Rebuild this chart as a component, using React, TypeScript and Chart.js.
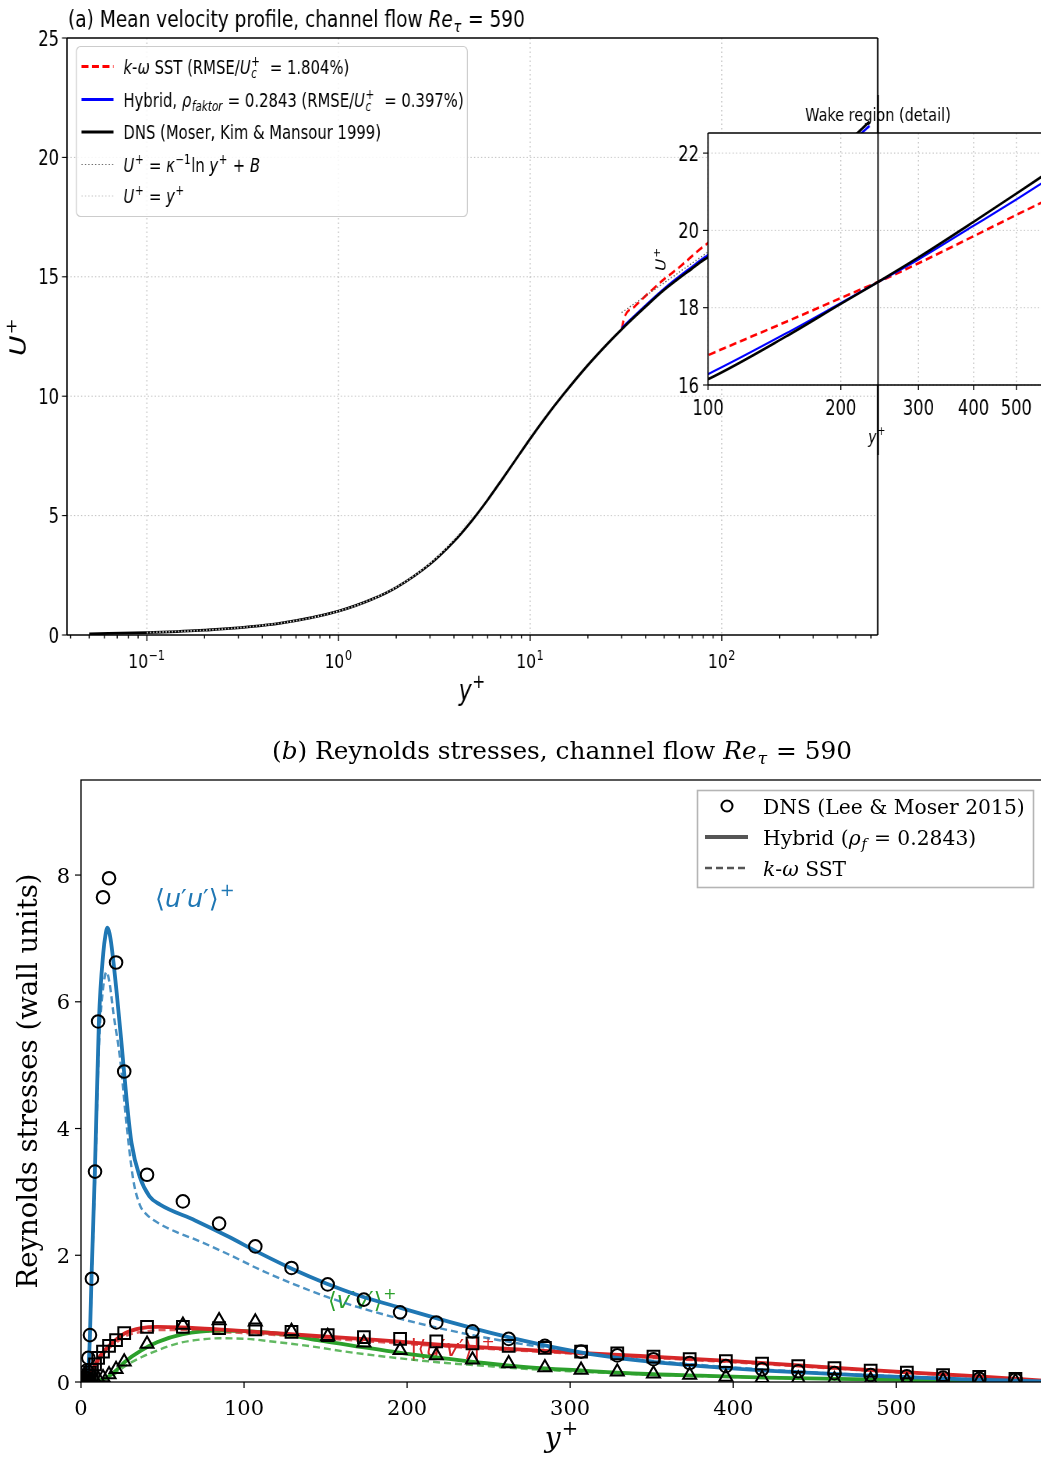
import React, { useEffect, useRef } from 'react';
import { Chart, registerables } from 'chart.js';
Chart.register(...registerables);

// ---------------- layout constants ----------------
const F = 0.78; // horizontal squeeze of panel (a)
const CW_A = Math.round(1041 / F);
const CH_A = 712;
const CW_I = Math.round(500 / F);
const CH_I = 360;
const F_I = 500 / CW_I;
const A_FAM = "'DejaVu Sans', 'Noto Sans', sans-serif";
const B_FAM = "'DejaVu Serif', 'Liberation Serif', serif";
const BLUE = '#1f77b4';
const RED = '#d62728';
const GREEN = '#2ca02c';

// ---------------- panel (a) data ----------------
const dnsYPlus = [0.05, 0.1, 0.2, 0.5, 1, 1.5, 2, 3, 4, 5, 6, 7, 8, 10, 12, 15, 20, 25, 30, 40, 50, 70, 81, 100, 150, 200, 250, 300, 400, 500, 590];
const dnsU = [0.05, 0.1, 0.2, 0.5, 1.0, 1.5, 1.99, 2.97, 3.92, 4.82, 5.66, 6.42, 7.09, 8.22, 9.1, 10.1, 11.3, 12.15, 12.8, 13.75, 14.45, 15.35, 15.72, 16.15, 17.25, 18.1, 18.75, 19.3, 20.22, 20.95, 21.5];
const hybYPlus = [30, 40, 50, 70, 81, 100, 150, 200, 250, 300, 400, 500, 590];
const hybU = [12.85, 13.8, 14.5, 15.42, 15.8, 16.28, 17.33, 18.12, 18.74, 19.25, 20.12, 20.8, 21.32];
const sstYPlus = [30, 31, 35, 40, 50, 60, 81, 100, 150, 200, 250, 300, 400, 500, 590];
const sstU = [12.8, 13.3, 13.75, 14.2, 14.9, 15.4, 16.3, 16.77, 17.63, 18.25, 18.73, 19.15, 19.85, 20.4, 20.8];
const logLawYPlus = [30, 50, 100, 200, 300, 400, 500, 590];
const logLawU = [13.5, 14.75, 16.44, 18.13, 19.12, 19.82, 20.36, 20.77];
const linLawYPlus = [0.1, 0.2, 0.3, 0.5, 0.7, 1, 1.5, 2, 2.5, 3, 3.5, 4, 4.5, 5];
const linLawU = [0.1, 0.2, 0.3, 0.5, 0.7, 1, 1.5, 2, 2.5, 3, 3.5, 4, 4.5, 5];

const aMajorTicks = [0.1, 1, 10, 100];
const aMajorExp = ['−1', '0', '1', '2'];
const aMinorTicks = [0.04, 0.05, 0.06, 0.07, 0.08, 0.09, 0.2, 0.3, 0.4, 0.5, 0.6, 0.7, 0.8, 0.9, 2, 3, 4, 5, 6, 7, 8, 9, 20, 30, 40, 50, 60, 70, 80, 90, 200, 300, 400, 500, 600];
const aYTicks = [0, 5, 10, 15, 20, 25];
const aGridY = [5, 10, 15, 20];
const insetXTicks = [100, 200, 300, 400, 500];
const insetYTicks = [16, 18, 20, 22];

// ---------------- panel (b) data ----------------
const dnsStressYPlus = [1.2, 2.4, 3.5, 4.5, 5.5, 6.7, 8.6, 10.5, 13.5, 17.2, 21.5, 26.5, 40.5, 62.5, 84.7, 106.9, 129.1, 151.3, 173.5, 195.7, 217.9, 240.1, 262.3, 284.5, 306.7, 328.9, 351.1, 373.3, 395.5, 417.7, 439.9, 462.1, 484.3, 506.5, 528.7, 550.9, 573.1];
const dnsUU = [0.02, 0.08, 0.18, 0.38, 0.74, 1.63, 3.32, 5.69, 7.65, 7.95, 6.62, 4.9, 3.27, 2.85, 2.5, 2.14, 1.8, 1.54, 1.3, 1.1, 0.94, 0.8, 0.68, 0.57, 0.48, 0.42, 0.36, 0.3, 0.25, 0.2, 0.17, 0.14, 0.11, 0.09, 0.07, 0.05, 0.04];
const dnsUV = [0.005, 0.03, 0.06, 0.11, 0.15, 0.19, 0.28, 0.38, 0.48, 0.57, 0.66, 0.77, 0.87, 0.87, 0.85, 0.83, 0.79, 0.74, 0.71, 0.68, 0.64, 0.61, 0.57, 0.54, 0.48, 0.45, 0.4, 0.36, 0.33, 0.29, 0.25, 0.22, 0.18, 0.15, 0.11, 0.08, 0.05];
const dnsVV = [0, 0.002, 0.005, 0.008, 0.012, 0.02, 0.03, 0.05, 0.07, 0.12, 0.2, 0.32, 0.6, 0.9, 0.97, 0.95, 0.8, 0.72, 0.62, 0.5, 0.42, 0.35, 0.29, 0.23, 0.19, 0.16, 0.13, 0.11, 0.08, 0.06, 0.05, 0.04, 0.03, 0.02, 0.02, 0.01, 0.01];

const hybUUYPlus = [0, 2, 3.5, 4.5, 5.5, 6.5, 8.6, 11, 13.7, 15, 16.2, 17.5, 18.8, 21.9, 25, 28, 31, 36, 42, 48.5, 70, 90, 110, 130, 150, 170, 196, 226, 257, 288, 318, 349, 380, 420, 482, 543, 590];
const hybUU = [0, 0.01, 0.05, 0.2, 0.75, 1.7, 3.4, 5.7, 6.78, 7.05, 7.17, 7.08, 6.87, 6.14, 5.3, 4.45, 3.77, 3.24, 2.93, 2.8, 2.55, 2.3, 2.03, 1.78, 1.56, 1.37, 1.17, 0.95, 0.74, 0.56, 0.42, 0.32, 0.25, 0.18, 0.1, 0.04, 0.01];
const sstUUYPlus = [0, 3.5, 4.5, 5.5, 6.5, 8.6, 11, 13.5, 15.7, 17.5, 20, 24, 28, 32, 36, 40, 48, 60, 70, 90, 110, 130, 150, 170, 200, 225, 250, 280, 310, 340, 370, 400, 450, 500, 550, 590];
const sstUU = [0, 0.04, 0.18, 0.7, 1.6, 3.2, 5.3, 6.2, 6.47, 6.3, 5.8, 5.1, 4.05, 3.2, 2.8, 2.65, 2.5, 2.35, 2.25, 2.02, 1.77, 1.55, 1.35, 1.18, 0.97, 0.82, 0.69, 0.56, 0.45, 0.36, 0.29, 0.23, 0.15, 0.09, 0.04, 0.01];
const hybUVYPlus = [0, 2, 4, 6, 8.6, 12, 16.8, 22, 27, 37, 47, 62, 84, 102, 142, 183, 224, 265, 306, 343, 400, 482, 543, 590];
const hybUV = [0, 0.01, 0.06, 0.15, 0.27, 0.42, 0.56, 0.68, 0.77, 0.85, 0.87, 0.86, 0.83, 0.8, 0.73, 0.66, 0.58, 0.52, 0.46, 0.41, 0.33, 0.19, 0.1, 0.02];
const sstUVYPlus = [0, 4, 8.6, 12, 16.8, 22, 27, 40, 50, 62, 84, 102, 142, 183, 224, 265, 306, 343, 400, 482, 543, 590];
const sstUV = [0, 0.05, 0.24, 0.38, 0.52, 0.63, 0.72, 0.8, 0.82, 0.82, 0.79, 0.77, 0.7, 0.63, 0.56, 0.5, 0.44, 0.39, 0.31, 0.18, 0.09, 0.01];
const hybVVYPlus = [0, 5, 10, 13, 16.5, 21, 27, 37, 47, 62, 84, 104, 125, 145, 170, 196, 224, 247, 275, 308, 343, 380, 420, 482, 543, 590];
const hybVV = [0, 0.005, 0.02, 0.04, 0.08, 0.17, 0.32, 0.5, 0.63, 0.75, 0.81, 0.8, 0.75, 0.66, 0.56, 0.46, 0.37, 0.3, 0.23, 0.18, 0.13, 0.1, 0.07, 0.04, 0.02, 0.01];
const sstVVYPlus = [0, 10, 16.5, 21, 27, 37, 47, 61, 70, 85, 102, 120, 142, 162, 183, 204, 224, 245, 265, 300, 343, 400, 482, 543, 590];
const sstVV = [0, 0.015, 0.06, 0.13, 0.25, 0.39, 0.5, 0.62, 0.66, 0.69, 0.68, 0.63, 0.56, 0.48, 0.41, 0.35, 0.3, 0.26, 0.22, 0.17, 0.12, 0.08, 0.04, 0.02, 0.005];

const bXTicks = [0, 100, 200, 300, 400, 500];
const bYTicks = [0, 2, 4, 6, 8];

// ---------------- helpers ----------------
type Seg = { t: string; i?: boolean; sub?: string; subI?: boolean; sup?: string; supI?: boolean };
const pts = (xs: number[], ys: number[]) => xs.map((x, k) => ({ x, y: ys[k] }));
function fnt(it: any, size: number, fam: string) {
  return `${it ? 'italic ' : ''}${size}px ${fam}`;
}
function richWidth(ctx: any, segs: Seg[], size: number, fam: string) {
  let w = 0;
  for (const s of segs) {
    ctx.font = fnt(s.i, size, fam);
    w += ctx.measureText(s.t).width;
    if (s.sub || s.sup) {
      let e = 0;
      if (s.sub) { ctx.font = fnt(s.subI, size * 0.7, fam); e = Math.max(e, ctx.measureText(s.sub).width); }
      if (s.sup) { ctx.font = fnt(s.supI, size * 0.7, fam); e = Math.max(e, ctx.measureText(s.sup).width); }
      w += e + size * 0.08;
    }
  }
  return w;
}
function drawRich(ctx: any, segs: Seg[], x: number, y: number, size: number, fam: string, color: string, align = 'left') {
  ctx.save();
  ctx.fillStyle = color;
  ctx.textAlign = 'left';
  ctx.textBaseline = 'alphabetic';
  const total = richWidth(ctx, segs, size, fam);
  let cx = align === 'left' ? x : align === 'center' ? x - total / 2 : x - total;
  for (const s of segs) {
    ctx.font = fnt(s.i, size, fam);
    ctx.fillText(s.t, cx, y);
    cx += ctx.measureText(s.t).width;
    if (s.sub || s.sup) {
      cx += size * 0.04;
      let e = 0;
      if (s.sub) {
        ctx.font = fnt(s.subI, size * 0.7, fam);
        ctx.fillText(s.sub, cx, y + size * 0.22);
        e = Math.max(e, ctx.measureText(s.sub).width);
      }
      if (s.sup) {
        ctx.font = fnt(s.supI, size * 0.7, fam);
        ctx.fillText(s.sup, cx, y - size * 0.42);
        e = Math.max(e, ctx.measureText(s.sup).width);
      }
      cx += e + size * 0.04;
    }
  }
  ctx.restore();
}
function drawRot(ctx: any, segs: Seg[], x: number, y: number, size: number, fam: string, color: string) {
  ctx.save();
  ctx.translate(x, y);
  ctx.rotate(-Math.PI / 2);
  drawRich(ctx, segs, 0, size * 0.36, size, fam, color, 'center');
  ctx.restore();
}
function ln(ctx: any, x1: number, y1: number, x2: number, y2: number) {
  ctx.beginPath();
  ctx.moveTo(x1, y1);
  ctx.lineTo(x2, y2);
  ctx.stroke();
}
const GRID = 'rgba(170,170,170,0.75)';

// ---------------- panel (a) main plugin ----------------
const X = (p: number) => p / F;
const mainDecor = {
  id: 'mainDecor',
  beforeDraw(chart: any) {
    const { ctx, width, height } = chart;
    ctx.save();
    ctx.fillStyle = '#fff';
    ctx.fillRect(0, 0, width, height);
    ctx.restore();
  },
  beforeDatasetsDraw(chart: any) {
    const { ctx, chartArea: a, scales } = chart;
    ctx.save();
    ctx.strokeStyle = GRID;
    ctx.setLineDash([1.5, 3]);
    ctx.lineWidth = 1 / F;
    aMajorTicks.forEach((v) => { const px = scales.x.getPixelForValue(v); ln(ctx, px, a.top, px, a.bottom); });
    ctx.lineWidth = 1;
    aGridY.forEach((v) => { const py = scales.y.getPixelForValue(v); ln(ctx, a.left, py, a.right, py); });
    ctx.restore();
  },
  afterDraw(chart: any) {
    const { ctx, chartArea: a, scales } = chart;
    const xs = scales.x, ys = scales.y;
    ctx.save();
    ctx.strokeStyle = '#000';
    ctx.setLineDash([]);
    ctx.lineWidth = 1.4;
    ln(ctx, a.left, a.top, a.right, a.top);
    ln(ctx, a.left, a.bottom, a.right, a.bottom);
    ctx.lineWidth = 1.4 / F;
    ln(ctx, a.left, a.top, a.left, a.bottom);
    ln(ctx, a.right, a.top, a.right, a.bottom);
    ctx.lineWidth = 1.1 / F;
    aMajorTicks.forEach((v) => { const px = xs.getPixelForValue(v); ln(ctx, px, a.bottom, px, a.bottom + 6); });
    aMinorTicks.forEach((v) => {
      const px = xs.getPixelForValue(v);
      if (px >= a.left && px <= a.right) ln(ctx, px, a.bottom, px, a.bottom + 3.5);
    });
    ctx.lineWidth = 1.1;
    aYTicks.forEach((v) => { const py = ys.getPixelForValue(v); ln(ctx, a.left - X(5), py, a.left, py); });
    ctx.restore();
    aYTicks.forEach((v) => drawRich(ctx, [{ t: String(v) }], a.left - X(8), ys.getPixelForValue(v) + 7.5, 21, A_FAM, '#000', 'right'));
    aMajorTicks.forEach((v, k) => drawRich(ctx, [{ t: '10', sup: aMajorExp[k] }], xs.getPixelForValue(v), a.bottom + 33, 20, A_FAM, '#000', 'center'));
    drawRich(ctx, [{ t: 'y', i: true, sup: '+' }], (a.left + a.right) / 2, 700, 28, A_FAM, '#000', 'center');
    drawRot(ctx, [{ t: 'U', i: true, sup: '+' }], X(18), (a.top + a.bottom) / 2, 28, A_FAM, '#000');
    drawRich(ctx, [{ t: '(a) Mean velocity profile, channel flow ' }, { t: 'Re', i: true, sub: 'τ', subI: true }, { t: ' = 590' }], X(68), 27, 23.8, A_FAM, '#000', 'left');
    // legend
    ctx.save();
    const bx0 = X(76.5), bx1 = X(467.5), by0 = 46.5, by1 = 216.5;
    ctx.fillStyle = 'rgba(255,255,255,0.85)';
    ctx.strokeStyle = '#cccccc';
    ctx.lineWidth = 1.2;
    ctx.beginPath();
    (ctx as any).roundRect(bx0, by0, bx1 - bx0, by1 - by0, 5);
    ctx.fill();
    ctx.stroke();
    ctx.restore();
    const rows: any[] = [
      { kind: 'dash', color: '#ff0000', w: 3, segs: [{ t: 'k', i: true }, { t: '-' }, { t: 'ω', i: true }, { t: ' SST (RMSE/' }, { t: 'U', i: true, sub: 'c', subI: true, sup: '+' }, { t: '  = 1.804%)' }] },
      { kind: 'solid', color: '#0000ff', w: 3, segs: [{ t: 'Hybrid, ' }, { t: 'ρ', i: true, sub: 'faktor', subI: true }, { t: ' = 0.2843 (RMSE/' }, { t: 'U', i: true, sub: 'c', subI: true, sup: '+' }, { t: '  = 0.397%)' }] },
      { kind: 'solid', color: '#000000', w: 3, segs: [{ t: 'DNS (Moser, Kim & Mansour 1999)' }] },
      { kind: 'dot', color: '#666666', w: 1.2, segs: [{ t: 'U', i: true, sup: '+' }, { t: ' = ' }, { t: 'κ', i: true, sup: '−1' }, { t: 'ln ' }, { t: 'y', i: true, sup: '+' }, { t: ' + ' }, { t: 'B', i: true }] },
      { kind: 'dot', color: '#c4c4c4', w: 1.2, segs: [{ t: 'U', i: true, sup: '+' }, { t: ' = ' }, { t: 'y', i: true, sup: '+' }] },
    ];
    const rowY = [66.5, 99.5, 132, 164.5, 196];
    rows.forEach((r, k) => {
      const y = rowY[k];
      ctx.save();
      ctx.strokeStyle = r.color;
      ctx.lineWidth = r.w;
      if (r.kind === 'dash') ctx.setLineDash([X(7), X(3.5)]);
      else if (r.kind === 'dot') ctx.setLineDash([X(1.2), X(2.2)]);
      else ctx.setLineDash([]);
      ln(ctx, X(81.5), y, X(113.5), y);
      ctx.restore();
      drawRich(ctx, r.segs, X(123.5), y + 7, 19, A_FAM, '#000', 'left');
    });
  },
};

// ---------------- panel (a) inset plugin ----------------
const XI = (p: number) => (p - 600) / F_I;
const YI = (p: number) => p - 95;
const insetDecor = {
  id: 'insetDecor',
  beforeDraw(chart: any) {
    const { ctx, chartArea: a } = chart;
    ctx.save();
    ctx.fillStyle = '#fff';
    ctx.fillRect(a.left, a.top, a.right - a.left, a.bottom - a.top);
    ctx.restore();
  },
  beforeDatasetsDraw(chart: any) {
    const { ctx, chartArea: a, scales } = chart;
    ctx.save();
    ctx.strokeStyle = GRID;
    ctx.setLineDash([1.5, 3]);
    ctx.lineWidth = 1 / F_I;
    insetXTicks.forEach((v) => { const px = scales.x.getPixelForValue(v); ln(ctx, px, a.top, px, a.bottom); });
    ctx.lineWidth = 1;
    insetYTicks.forEach((v) => { const py = scales.y.getPixelForValue(v); ln(ctx, a.left, py, a.right, py); });
    ctx.restore();
  },
  afterDraw(chart: any) {
    const { ctx, chartArea: a, scales } = chart;
    const xs = scales.x, ys = scales.y;
    ctx.save();
    ctx.strokeStyle = '#000';
    ctx.lineWidth = 1.4;
    ln(ctx, a.left, a.top, a.right, a.top);
    ln(ctx, a.left, a.bottom, a.right, a.bottom);
    ctx.lineWidth = 1.4 / F_I;
    ln(ctx, a.left, a.top, a.left, a.bottom);
    ln(ctx, a.right, a.top, a.right, a.bottom);
    ctx.lineWidth = 1.1 / F_I;
    insetXTicks.forEach((v) => { const px = xs.getPixelForValue(v); ln(ctx, px, a.bottom, px, a.bottom + 5); });
    ctx.lineWidth = 1.1;
    insetYTicks.forEach((v) => { const py = ys.getPixelForValue(v); ln(ctx, a.left - (5 / F_I), py, a.left, py); });
    ctx.restore();
    insetYTicks.forEach((v) => drawRich(ctx, [{ t: String(v) }], a.left - 9 / F_I, ys.getPixelForValue(v) + 7.5, 21, A_FAM, '#000', 'right'));
    insetXTicks.forEach((v) => drawRich(ctx, [{ t: String(v) }], xs.getPixelForValue(v), YI(415), 21, A_FAM, '#000', 'center'));
    drawRich(ctx, [{ t: 'Wake region (detail)' }], (a.left + a.right) / 2, YI(121), 18.5, A_FAM, '#000', 'center');
    drawRich(ctx, [{ t: 'y', i: true, sup: '+' }], XI(877), YI(443), 18, A_FAM, '#000', 'center');
    drawRot(ctx, [{ t: 'U', i: true, sup: '+' }], XI(661), (a.top + a.bottom) / 2, 17, A_FAM, '#000');
    ctx.save();
    ctx.strokeStyle = '#000';
    ctx.lineWidth = 1.4 / F_I;
    ln(ctx, XI(878), 0, XI(878), CH_I);
    ctx.restore();
  },
};

// ---------------- panel (b) plugin ----------------
const BY = (p: number) => p - 712;
const bDecor = {
  id: 'bDecor',
  beforeDraw(chart: any) {
    const { ctx, width, height } = chart;
    ctx.save();
    ctx.fillStyle = '#fff';
    ctx.fillRect(0, 0, width, height);
    ctx.restore();
  },
  beforeDatasetsDraw(chart: any) {
    const { ctx } = chart;
    drawRich(ctx, [{ t: '⟨' }, { t: 'u', i: true }, { t: '′' }, { t: 'u', i: true }, { t: '′' }, { t: '⟩', sup: '+' }], 155, BY(907), 25.5, A_FAM, BLUE, 'left');
    drawRich(ctx, [{ t: '⟨' }, { t: 'v', i: true }, { t: '′' }, { t: 'v', i: true }, { t: '′' }, { t: '⟩', sup: '+' }], 328, BY(1308), 22.5, A_FAM, GREEN, 'left');
    drawRich(ctx, [{ t: '|⟨' }, { t: 'u', i: true }, { t: '′' }, { t: 'v', i: true }, { t: '′' }, { t: '⟩|', sup: '+' }], 410, BY(1356), 22.5, A_FAM, RED, 'left');
  },
  afterDraw(chart: any) {
    const { ctx, chartArea: a, scales } = chart;
    const xs = scales.x, ys = scales.y;
    ctx.save();
    ctx.strokeStyle = '#000';
    ctx.lineWidth = 1.3;
    ctx.strokeRect(a.left, a.top, a.right - a.left, a.bottom - a.top);
    ctx.lineWidth = 1.2;
    bXTicks.forEach((v) => { const px = xs.getPixelForValue(v); ln(ctx, px, a.bottom, px, a.bottom + 6); });
    bYTicks.forEach((v) => { const py = ys.getPixelForValue(v); ln(ctx, a.left - 6, py, a.left, py); });
    ctx.restore();
    bXTicks.forEach((v) => drawRich(ctx, [{ t: String(v) }], xs.getPixelForValue(v), a.bottom + 33, 21, B_FAM, '#000', 'center'));
    bYTicks.forEach((v) => drawRich(ctx, [{ t: String(v) }], a.left - 11, ys.getPixelForValue(v) + 7.5, 21, B_FAM, '#000', 'right'));
    drawRich(ctx, [{ t: '(' }, { t: 'b', i: true }, { t: ') Reynolds stresses, channel flow ' }, { t: 'Re', i: true, sub: 'τ', subI: true }, { t: ' = 590' }], 562, BY(759), 24.8, B_FAM, '#000', 'center');
    drawRich(ctx, [{ t: 'y', i: true, sup: '+' }], 562, BY(1447), 28, B_FAM, '#000', 'center');
    drawRot(ctx, [{ t: 'Reynolds stresses (wall units)' }], 27, (a.top + a.bottom) / 2, 27.5, B_FAM, '#000');
    // legend
    ctx.save();
    ctx.fillStyle = '#fff';
    ctx.strokeStyle = '#b5b5b5';
    ctx.lineWidth = 1.6;
    ctx.fillRect(697.5, BY(790.5), 336, 97);
    ctx.strokeRect(697.5, BY(790.5), 336, 97);
    ctx.strokeStyle = '#000';
    ctx.lineWidth = 2;
    ctx.beginPath();
    ctx.arc(727, BY(806), 5.5, 0, Math.PI * 2);
    ctx.stroke();
    ctx.strokeStyle = '#555';
    ctx.lineWidth = 4;
    ln(ctx, 705, BY(837), 748, BY(837));
    ctx.lineWidth = 2.4;
    ctx.setLineDash([7, 4]);
    ln(ctx, 705, BY(868), 748, BY(868));
    ctx.restore();
    drawRich(ctx, [{ t: 'DNS (Lee & Moser 2015)' }], 763, BY(813.5), 20.3, B_FAM, '#000', 'left');
    drawRich(ctx, [{ t: 'Hybrid (' }, { t: 'ρ', i: true, sub: 'f', subI: true }, { t: ' = 0.2843)' }], 763, BY(844.5), 20.3, B_FAM, '#000', 'left');
    drawRich(ctx, [{ t: 'k', i: true }, { t: '-' }, { t: 'ω', i: true }, { t: ' SST' }], 763, BY(875.5), 20.3, B_FAM, '#000', 'left');
  },
};

// ---------------- configs ----------------
const lineDs = (data: any, color: string, width: number, order: number, dash: number[] = []) => ({
  data,
  borderColor: color,
  backgroundColor: color,
  borderWidth: width,
  borderDash: dash,
  pointRadius: 0,
  fill: false,
  cubicInterpolationMode: 'monotone',
  order,
});
const markerDs = (data: any, style: string, radius: number) => ({
  data,
  showLine: false,
  pointStyle: style,
  pointRadius: radius,
  pointBorderWidth: 2,
  pointBorderColor: '#000',
  pointBackgroundColor: 'rgba(0,0,0,0)',
  borderColor: '#000',
  backgroundColor: 'rgba(0,0,0,0)',
  order: 0,
});
const baseOpts = (padding: any, scales: any) => ({
  animation: false,
  responsive: false,
  devicePixelRatio: 1,
  events: [],
  layout: { padding, autoPadding: false },
  plugins: { legend: { display: false }, tooltip: { enabled: false }, title: { display: false } },
  scales,
});

function mainConfig(): any {
  return {
    type: 'line',
    data: {
      datasets: [
        lineDs(pts(linLawYPlus, linLawU), '#dcdcdc', 1.7, 0, [1.5, 2.5]),
        lineDs(pts(logLawYPlus, logLawU), '#5a5a5a', 1.3, 1, [1.5, 2.5]),
        lineDs(pts(dnsYPlus, dnsU), '#000000', 2.8, 2),
        lineDs(pts(hybYPlus, hybU), '#0000ff', 2.6, 3),
        lineDs(pts(sstYPlus, sstU), '#ff0000', 2.6, 4, [9, 5]),
      ],
    },
    options: baseOpts(
      { left: 67 / F, right: CW_A - 878 / F, top: 38, bottom: CH_A - 635 },
      {
        x: { type: 'logarithmic', min: 0.0383, max: 651, display: false },
        y: { type: 'linear', min: 0, max: 25, display: false },
      }
    ),
    plugins: [mainDecor],
  };
}
function insetConfig(): any {
  return {
    type: 'line',
    data: {
      datasets: [
        lineDs(pts(dnsYPlus, dnsU), '#000000', 2.6, 2),
        lineDs(pts(hybYPlus, hybU), '#0000ff', 2.2, 3),
        lineDs(pts(sstYPlus, sstU), '#ff0000', 2.6, 4, [9, 5]),
      ],
    },
    options: baseOpts(
      { left: XI(708), right: CW_I - XI(1048), top: YI(133), bottom: CH_I - YI(385) },
      {
        x: { type: 'logarithmic', min: 100, max: 590, display: false },
        y: { type: 'linear', min: 16, max: 22.52, display: false },
      }
    ),
    plugins: [insetDecor],
  };
}
function bConfig(): any {
  return {
    type: 'line',
    data: {
      datasets: [
        markerDs(pts(dnsStressYPlus, dnsUU), 'circle', 6.3),
        markerDs(pts(dnsStressYPlus, dnsUV), 'rect', 8.3),
        markerDs(pts(dnsStressYPlus, dnsVV), 'triangle', 7.5),
        lineDs(pts(hybUUYPlus, hybUU), BLUE, 3.8, 1),
        lineDs(pts(hybUVYPlus, hybUV), RED, 3.8, 1),
        lineDs(pts(hybVVYPlus, hybVV), GREEN, 3.8, 1),
        lineDs(pts(sstUUYPlus, sstUU), 'rgba(31,119,180,0.8)', 2.4, 2, [7, 4]),
        lineDs(pts(sstUVYPlus, sstUV), 'rgba(214,39,40,0.75)', 2.4, 2, [7, 4]),
        lineDs(pts(sstVVYPlus, sstVV), 'rgba(44,160,44,0.75)', 2.4, 2, [7, 4]),
      ],
    },
    options: baseOpts(
      { left: 81, right: 2, top: BY(780), bottom: 1459 - 1382 },
      {
        x: { type: 'linear', min: 0, max: 590, display: false },
        y: { type: 'linear', min: 0, max: 9.5, display: false },
      }
    ),
    plugins: [bDecor],
  };
}

export default function App() {
  const aRef = useRef<HTMLCanvasElement>(null);
  const iRef = useRef<HTMLCanvasElement>(null);
  const bRef = useRef<HTMLCanvasElement>(null);
  useEffect(() => {
    const c1 = new Chart(aRef.current as any, mainConfig());
    const c2 = new Chart(iRef.current as any, insetConfig());
    const c3 = new Chart(bRef.current as any, bConfig());
    return () => {
      c1.destroy();
      c2.destroy();
      c3.destroy();
    };
  }, []);
  return (
    <div style={{ position: 'absolute', left: 0, top: 0, width: 1041, height: 1459, overflow: 'hidden', background: '#fff' }}>
      <canvas ref={aRef} width={CW_A} height={CH_A} style={{ position: 'absolute', left: 0, top: 0, width: '1041px', height: CH_A + 'px' }} />
      <canvas ref={iRef} width={CW_I} height={CH_I} style={{ position: 'absolute', left: 600, top: 95, width: '500px', height: CH_I + 'px' }} />
      <canvas ref={bRef} width={1045} height={747} style={{ position: 'absolute', left: 0, top: 712, width: '1045px', height: '747px' }} />
    </div>
  );
}
